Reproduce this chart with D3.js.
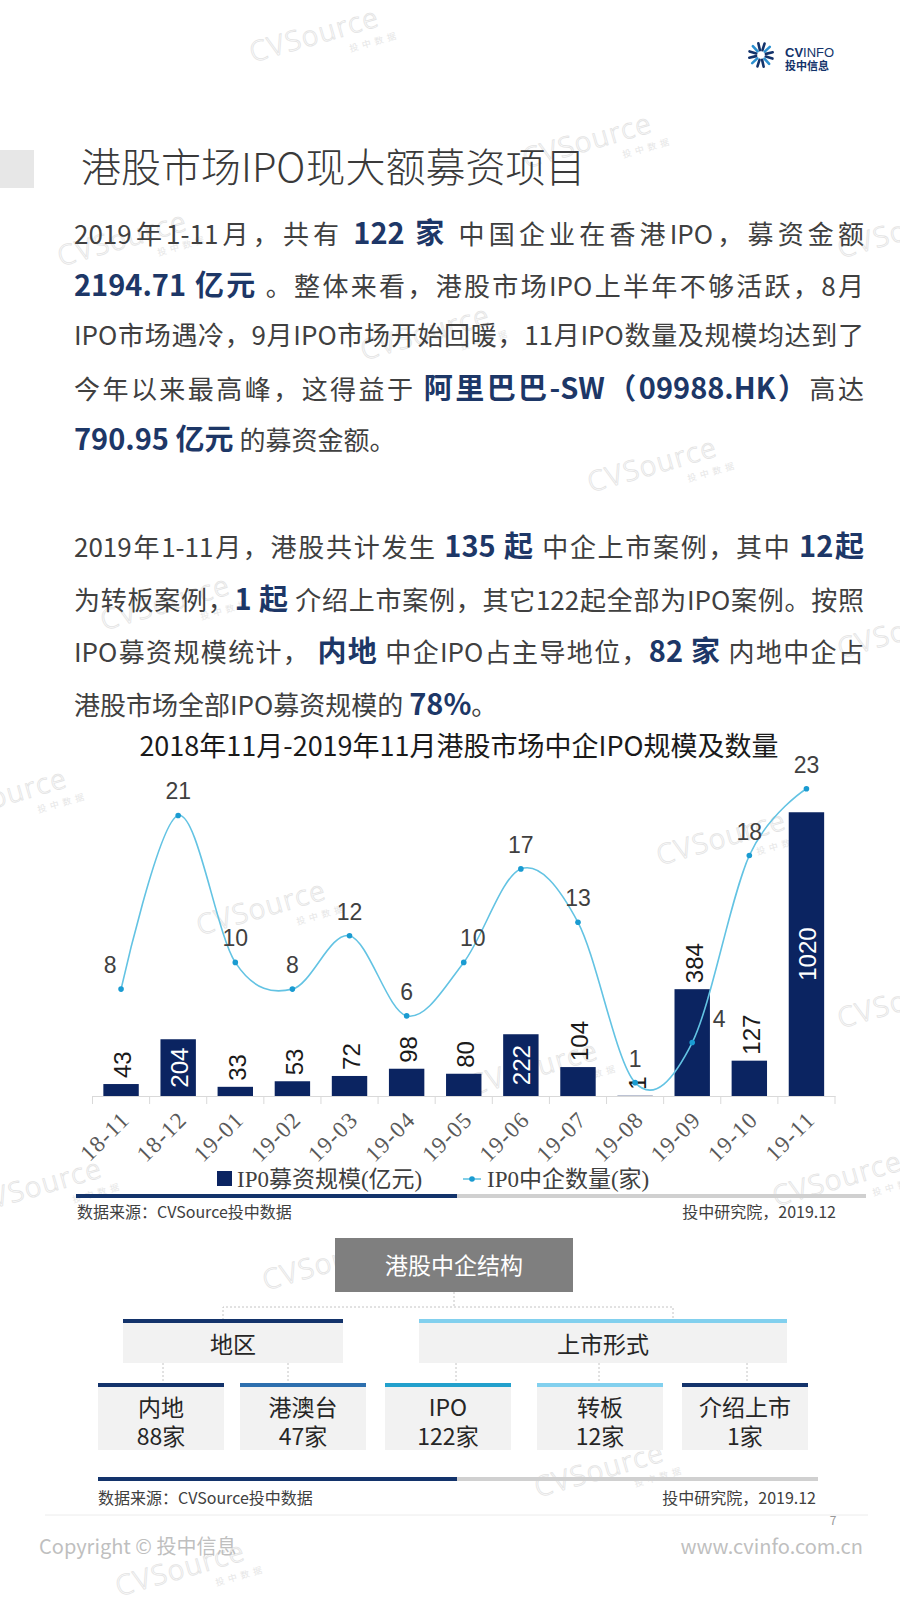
<!DOCTYPE html>
<html>
<head>
<meta charset="utf-8">
<script src="https://cdn.jsdelivr.net/npm/d3@7"></script>
<style>
body{margin:0;background:#fff;}
#page{position:relative;width:900px;height:1600px;overflow:hidden;background:#fff;}
#page svg{position:absolute;left:0;top:0;}
.ln{position:absolute;left:74px;width:790px;height:52px;line-height:52px;font-family:"Noto Sans CJK SC",sans-serif;font-size:26px;color:#404040;white-space:nowrap;text-align:justify;text-align-last:justify;}
.ln.last{text-align:left;text-align-last:left;}
.ln b{font-size:29px;color:#1d3767;font-weight:bold;}
</style>
</head>
<body>
<div id="page"></div>
<script>
//chart data
const months = ["18-11","18-12","19-01","19-02","19-03","19-04","19-05","19-06","19-07","19-08","19-09","19-10","19-11"];
const ipoAmount = [43,204,33,53,72,98,80,222,104,1,384,127,1020];
const ipoCount = [8,21,10,8,12,6,10,17,13,1,4,18,23];
const insideLabel = ["18-12","19-06","19-11"];
const legendNames = ["IP0募资规模(亿元)","IP0中企数量(家)"];

//structure chart data
const groupNames = ["地区","上市形式"];
const childNames = ["内地","港澳台","IPO","转板","介绍上市"];
const childCounts = [88,47,122,12,1];

//text blocks, {} marks the highlighted parts
const para1 = [
	"2019年1-11月，共有 {122 家} 中国企业在香港IPO，募资金额",
	"{2194.71 亿元} 。整体来看，港股市场IPO上半年不够活跃，8月",
	"IPO市场遇冷，9月IPO市场开始回暖，11月IPO数量及规模均达到了",
	"今年以来最高峰，这得益于 {阿里巴巴-SW（09988.HK）}高达",
	"{790.95 亿元} 的募资金额。"
];
const para2 = [
	"2019年1-11月，港股共计发生 {135 起} 中企上市案例，其中 {12起}",
	"为转板案例，{1 起} 介绍上市案例，其它122起全部为IPO案例。按照",
	"IPO募资规模统计， {内地} 中企IPO占主导地位，{82 家} 内地中企占",
	"港股市场全部IPO募资规模的 {78%}。"
];

const navy = "#0b2461";
const cjk = '"Noto Sans CJK SC", sans-serif';
const num = '"Liberation Sans", "Noto Sans CJK SC", sans-serif';
const serif = '"Liberation Serif", "Noto Sans CJK SC", serif';

const page = d3.select('#page');
const svg = page.append('svg').attr('width', 900).attr('height', 1600);

//watermarks
const marks = [[317,44],[590,150],[125,248],[905,240],[428,342],[655,474],[168,612],[905,640],[5,805],[724,847],[264,917],[905,1010],[536,1077],[40,1195],[840,1188],[330,1272],[602,1479],[183,1578]];
const wm = svg.append('g').selectAll('g').data(marks).join('g')
	.attr('transform', d => `translate(${d[0]},${d[1]}) rotate(-16)`);
wm.append('text').text('CVSource')
	.attr('text-anchor','middle').attr('font-family','"Noto Sans", sans-serif')
	.attr('font-weight',300).attr('font-size',28).attr('letter-spacing',1.5)
	.attr('fill','none').attr('stroke','#e3e3e3').attr('stroke-width',0.8);
wm.append('text').text('投中数据')
	.attr('x',30).attr('y',17).attr('font-family',cjk).attr('font-size',9)
	.attr('letter-spacing',4).attr('fill','#e6e6e6');

//logo
const logo = svg.append('g');
logo.selectAll('line').data(d3.range(12)).join('line')
	.attr('x1', i => 761 + 5*Math.cos(i*Math.PI/6 + 0.3))
	.attr('y1', i => 55 + 5*Math.sin(i*Math.PI/6 + 0.3))
	.attr('x2', i => 761 + 12*Math.cos(i*Math.PI/6 + 0.3))
	.attr('y2', i => 55 + 12*Math.sin(i*Math.PI/6 + 0.3))
	.attr('stroke', i => i%3 == 1 ? '#2a8fd0' : '#13336b')
	.attr('stroke-width', 2.6).attr('stroke-linecap','round');
const logoTxt = logo.append('text').attr('x',785).attr('y',57)
	.attr('font-family','"Liberation Sans", sans-serif').attr('font-size',13).attr('fill','#13336b');
logoTxt.append('tspan').text('CV').attr('font-weight','bold');
logoTxt.append('tspan').text('INFO');
logo.append('text').text('投中信息').attr('x',785).attr('y',70)
	.attr('font-family',cjk).attr('font-size',11).attr('font-weight','bold').attr('fill','#13336b');

//page title
svg.append('rect').attr('x',0).attr('y',150).attr('width',34).attr('height',38).attr('fill','#e7e7e7');
svg.append('text').text('港股市场IPO现大额募资项目')
	.attr('x',81).attr('y',168).attr('dy','0.36em')
	.attr('font-family',cjk).attr('font-weight',300).attr('font-size',40).attr('fill','#3a3a3a');

//paragraphs
const lines = para1.map((t,i) => ({t, y:232 + i*51.5, last:i == para1.length-1}))
	.concat(para2.map((t,i) => ({t, y:545 + i*52.5, last:i == para2.length-1})));
page.selectAll('div.ln').data(lines).join('div')
	.attr('class', d => d.last ? 'ln last' : 'ln')
	.style('top', d => (d.y - 27) + 'px')
	.html(d => d.t.replace(/\{(.*?)\}/g, '<b>$1</b>'));

//bar + line chart
const base = 1096;
const x = d3.scaleBand().domain(months).range([92.5, 835]).paddingInner(0.38).paddingOuter(0.19);
const yBar = d3.scaleLinear().domain([0, 1100]).range([base, 790]);
const yLine = d3.scaleLinear().domain([0, 25]).range([base, 762]);
const cx = d => x(d) + x.bandwidth()/2;
const chart = svg.append('g');

chart.append('text').text('2018年11月-2019年11月港股市场中企IPO规模及数量')
	.attr('x',459).attr('y',746).attr('dy','0.36em').attr('text-anchor','middle')
	.attr('font-family',cjk).attr('font-size',27).attr('fill','#1a1a1a');

//axis: line, ticks between categories, rotated labels
const ax = chart.append('g').attr('transform',`translate(0,${base})`)
	.call(d3.axisBottom(x).tickSize(0));
ax.attr('font-family',serif);
ax.select('.domain').attr('stroke','#d9d9d9');
ax.selectAll('.tick text')
	.attr('x',0).attr('y',0).attr('dy',0)
	.attr('text-anchor','end')
	.attr('transform','translate(10,25) rotate(-45)')
	.attr('font-family',serif).attr('font-size',23).attr('letter-spacing',1.2).attr('fill','#595959');
chart.append('g').selectAll('line').data(d3.range(months.length+1)).join('line')
	.attr('x1', i => x.range()[0] + i*x.step()).attr('x2', i => x.range()[0] + i*x.step())
	.attr('y1', base).attr('y2', base+8).attr('stroke','#d9d9d9');

//bars
const bars = months.map((m,i) => ({m, v:ipoAmount[i]}));
chart.append('g').selectAll('rect').data(bars).join('rect')
	.attr('x', d => x(d.m)).attr('width', x.bandwidth())
	.attr('y', d => yBar(d.v)).attr('height', d => base - yBar(d.v))
	.attr('fill', navy);
chart.append('g').selectAll('text').data(bars).join('text')
	.text(d => d.v)
	.attr('transform', d => insideLabel.includes(d.m)
		? `translate(${cx(d.m)+1},${(yBar(d.v)+base)/2}) rotate(-90)`
		: `translate(${cx(d.m)+2},${yBar(d.v)-6}) rotate(-90)`)
	.attr('text-anchor', d => insideLabel.includes(d.m) ? 'middle' : 'start')
	.attr('dy','0.35em')
	.attr('font-family',num).attr('font-size',24)
	.attr('fill', d => insideLabel.includes(d.m) ? '#fff' : '#1a1a1a');

//line
const pts = months.map((m,i) => ({m, v:ipoCount[i]}));
const lineGen = d3.line().x(d => cx(d.m)).y(d => yLine(d.v)).curve(d3.curveCardinal.tension(0));
chart.append('path').datum(pts).attr('d', lineGen)
	.attr('fill','none').attr('stroke','#63c3e3').attr('stroke-width',1.6);
chart.append('g').selectAll('circle').data(pts).join('circle')
	.attr('cx', d => cx(d.m)).attr('cy', d => yLine(d.v)).attr('r',2.8).attr('fill','#1a9bd1');
const nudge = {"18-11":-11, "19-05":9, "19-09":27};
chart.append('g').selectAll('text').data(pts).join('text')
	.text(d => d.v)
	.attr('x', d => cx(d.m) + (nudge[d.m] || 0)).attr('y', d => yLine(d.v) - 24)
	.attr('dy','0.35em').attr('text-anchor','middle')
	.attr('font-family',num).attr('font-size',23).attr('fill','#404040');

//legend
const lg = chart.append('g');
lg.append('rect').attr('x',217).attr('y',1171).attr('width',15).attr('height',15).attr('fill',navy);
lg.append('line').attr('x1',463).attr('x2',481).attr('y1',1179).attr('y2',1179).attr('stroke','#63c3e3').attr('stroke-width',1.6);
lg.append('circle').attr('cx',472).attr('cy',1179).attr('r',2.8).attr('fill','#1a9bd1');
lg.selectAll('text').data(legendNames).join('text').text(d => d)
	.attr('x', (d,i) => i ? 487 : 237).attr('y',1179).attr('dy','0.35em')
	.attr('font-family',serif).attr('font-size',23).attr('fill','#404040');

//rule + source under chart
function rule(y, x0, xm, x1){
	svg.append('rect').attr('x',xm).attr('y',y).attr('width',x1-xm).attr('height',4).attr('fill','#d0d0d0');
	svg.append('rect').attr('x',x0).attr('y',y).attr('width',xm-x0).attr('height',4).attr('fill','#13336b');
}
function source(y, x0, x1){
	svg.append('text').text('数据来源：CVSource投中数据').attr('x',x0).attr('y',y).attr('dy','0.36em')
		.attr('font-family',cjk).attr('font-size',16).attr('fill','#404040');
	svg.append('text').text('投中研究院，2019.12').attr('x',x1).attr('y',y).attr('dy','0.36em')
		.attr('text-anchor','end').attr('font-family',cjk).attr('font-size',16).attr('fill','#404040');
}
rule(1194, 76, 457, 866);
source(1212, 77, 836);

//structure chart
const org = svg.append('g');
const dot = sel => sel.attr('fill','none').attr('stroke','#c4c4c4').attr('stroke-dasharray','2,2');
org.append('path').attr('d','M454,1292V1307M223,1320V1307H673V1320').call(dot);
org.append('path').attr('d','M163,1363V1383M288,1363V1383M456,1363V1383M599,1363V1383M747,1363V1383').call(dot);

org.append('rect').attr('x',335).attr('y',1238).attr('width',238).attr('height',54).attr('fill','#7f7f7f');
org.append('text').text('港股中企结构').attr('x',454).attr('y',1266).attr('dy','0.36em')
	.attr('text-anchor','middle').attr('font-family',cjk).attr('font-size',23).attr('fill','#fff');

const groups = [
	{name:groupNames[0], x0:123, x1:343, bar:'#13336b'},
	{name:groupNames[1], x0:419, x1:787, bar:'#82d0ee'}
];
const gg = org.selectAll('g.grp').data(groups).join('g').attr('class','grp');
gg.append('rect').attr('x', d => d.x0).attr('y',1323).attr('width', d => d.x1-d.x0).attr('height',40).attr('fill','#f2f2f2');
gg.append('rect').attr('x', d => d.x0).attr('y',1319).attr('width', d => d.x1-d.x0).attr('height',4).attr('fill', d => d.bar);
gg.append('text').text(d => d.name).attr('x', d => (d.x0+d.x1)/2).attr('y',1345).attr('dy','0.36em')
	.attr('text-anchor','middle').attr('font-family',cjk).attr('font-size',23).attr('fill','#262626');

const childX = [98,240,385,537,682];
const childBar = ['#13336b','#2d6fae','#22a0cc','#82d0ee','#13336b'];
const kids = childNames.map((n,i) => ({n, c:childCounts[i], x0:childX[i], bar:childBar[i]}));
const kg = org.selectAll('g.kid').data(kids).join('g').attr('class','kid');
kg.append('rect').attr('x', d => d.x0).attr('y',1387).attr('width',126).attr('height',63).attr('fill','#f2f2f2');
kg.append('rect').attr('x', d => d.x0).attr('y',1383).attr('width',126).attr('height',4).attr('fill', d => d.bar);
const kt = kg.append('text').attr('text-anchor','middle').attr('font-family',cjk)
	.attr('font-size',23).attr('fill','#262626');
kt.append('tspan').text(d => d.n).attr('x', d => d.x0+63).attr('y',1416);
kt.append('tspan').text(d => d.c + '家').attr('x', d => d.x0+63).attr('y',1445);

rule(1477, 98, 457, 818);
source(1498, 98, 816);

//footer
svg.append('line').attr('x1',45).attr('x2',868).attr('y1',1515).attr('y2',1515).attr('stroke','#ececec');
svg.append('text').text('7').attr('x',833).attr('y',1521).attr('dy','0.35em').attr('text-anchor','middle')
	.attr('font-family',cjk).attr('font-size',12).attr('fill','#9a9a9a');
svg.append('text').text('Copyright © 投中信息').attr('x',39).attr('y',1547).attr('dy','0.36em')
	.attr('font-family',cjk).attr('font-size',20).attr('fill','#bfbfbf');
svg.append('text').text('www.cvinfo.com.cn').attr('x',863).attr('y',1547).attr('dy','0.36em')
	.attr('text-anchor','end').attr('font-family',cjk).attr('font-size',20).attr('fill','#bfbfbf');
</script>
</body>
</html>
